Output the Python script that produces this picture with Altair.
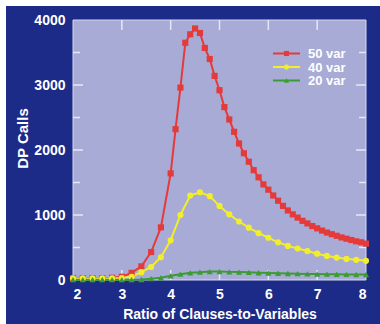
import altair as alt
import pandas as pd

# ---- data ----
red_x = [2.0, 2.2, 2.4, 2.6, 2.8, 3.0, 3.2, 3.4, 3.6, 3.8,
         4.0, 4.1, 4.2, 4.3, 4.4, 4.5, 4.6, 4.7, 4.8, 4.9,
         5.0, 5.1, 5.2, 5.3, 5.4, 5.5, 5.6, 5.7, 5.8, 5.9,
         6.0, 6.1, 6.2, 6.3, 6.4, 6.5, 6.6, 6.7, 6.8, 6.9,
         7.0, 7.1, 7.2, 7.3, 7.4, 7.5, 7.6, 7.7, 7.8, 7.9, 8.0]
red_y = [30, 30, 30, 30, 35, 50, 110, 210, 430, 810,
         1640, 2320, 2960, 3650, 3780, 3870, 3800, 3570, 3400, 3140,
         2920, 2660, 2470, 2280, 2100, 1950, 1820, 1690, 1580, 1470,
         1390, 1300, 1220, 1140, 1070, 1010, 960, 910, 870, 830,
         795, 760, 730, 705, 680, 655, 635, 615, 595, 580, 560]

yg_x = [2.0, 2.2, 2.4, 2.6, 2.8, 3.0, 3.2, 3.4, 3.6, 3.8,
        4.0, 4.2, 4.4, 4.6, 4.8, 5.0, 5.2, 5.4, 5.6, 5.8,
        6.0, 6.2, 6.4, 6.6, 6.8, 7.0, 7.2, 7.4, 7.6, 7.8, 8.0]
yellow_y = [25, 25, 25, 25, 25, 30, 50, 120, 200, 350,
            610, 1000, 1300, 1350, 1290, 1140, 1010, 900, 805, 720,
            650, 580, 525, 485, 445, 405, 370, 345, 325, 310, 295]
green_y = [5, 5, 5, 5, 5, 5, 5, 8, 20, 35,
           65, 90, 110, 120, 130, 130, 125, 122, 118, 112,
           108, 104, 100, 97, 94, 92, 90, 88, 86, 85, 84]

series = ["50 var", "40 var", "20 var"]
colors = ["#e53a3a", "#f2ee2a", "#3d9b35"]
shapes = ["square", "circle", "triangle-up"]

x_labels = [2, 3, 4, 5, 6, 7, 8]
y_labels = [0, 1000, 2000, 3000, 4000]
y_major_ticks = [1000, 2000, 3000]
y_minor_ticks = [500, 1500, 2500, 3500]
x_ticks = [3, 4, 5, 6, 7]

W, H = 293, 260
BLUE = "#1c2a88"
LAV = "#a8abd5"
TICK = "#e6e7f6"
FONT = "Liberation Sans"

df = pd.concat([
    pd.DataFrame({"x": red_x, "y": red_y, "s": series[0]}),
    pd.DataFrame({"x": yg_x, "y": yellow_y, "s": series[1]}),
    pd.DataFrame({"x": yg_x, "y": green_y, "s": series[2]}),
], ignore_index=True)
df["o"] = df.index

xs = alt.Scale(domain=[2, 8], nice=False, zero=False)
ys = alt.Scale(domain=[0, 4000], nice=False)
cs = alt.Scale(domain=series, range=colors)
ss = alt.Scale(domain=series, range=shapes)

one = pd.DataFrame({"a": [0]})

# white strips along the top and left edge of the picture
strip_top = alt.Chart(one).mark_rect(color="white").encode(
    x=alt.value(-80), x2=alt.value(W + 30), y=alt.value(-30), y2=alt.value(-14))
strip_left = alt.Chart(one).mark_rect(color="white").encode(
    x=alt.value(-80), x2=alt.value(-67), y=alt.value(-30), y2=alt.value(H + 60))
plot_bg = alt.Chart(one).mark_rect(fill=LAV, stroke="#d6d8f0", strokeWidth=1).encode(
    x=alt.value(0), x2=alt.value(W), y=alt.value(0), y2=alt.value(H))

xax = alt.Axis(values=x_labels, format="d", ticks=False, domain=False, grid=False, zindex=1,
               labelFont=FONT, labelFontSize=14, labelFontWeight="bold", labelColor="white",
               labelPadding=7, title="Ratio of Clauses-to-Variables", titleFont=FONT,
               titleFontSize=14, titleFontWeight="bold", titleColor="white",
               titleBaseline="alphabetic", titleY=38)
yax = alt.Axis(values=y_labels, format="d", ticks=False, domain=False, grid=False, zindex=1,
               labelFont=FONT, labelFontSize=14, labelFontWeight="bold", labelColor="white",
               labelPadding=8, title="DP Calls", titleFont=FONT, titleFontSize=15,
               titleFontWeight="bold", titleColor="white", titleAngle=-90,
               titleBaseline="middle", titleAlign="center", titleX=-51, titleY=118)

lines = alt.Chart(df).mark_line(strokeWidth=2).encode(
    x=alt.X("x:Q", scale=xs, axis=xax),
    y=alt.Y("y:Q", scale=ys, axis=yax),
    color=alt.Color("s:N", scale=cs, legend=None),
    detail="s:N",
    order="o:Q",
)
points = alt.Chart(df).mark_point(filled=True, size=38, opacity=1).encode(
    x=alt.X("x:Q", scale=xs),
    y=alt.Y("y:Q", scale=ys),
    color=alt.Color("s:N", scale=cs, legend=None),
    shape=alt.Shape("s:N", scale=ss, legend=None),
    order="o:Q",
)

def yticks(vals, x0, x1):
    return alt.Chart(pd.DataFrame({"v": vals})).mark_rule(color=TICK, strokeWidth=1.5).encode(
        y=alt.Y("v:Q", scale=ys), x=alt.value(x0), x2=alt.value(x1))

def xticks(vals, y0, y1):
    return alt.Chart(pd.DataFrame({"v": vals})).mark_rule(color=TICK, strokeWidth=1.5).encode(
        x=alt.X("v:Q", scale=xs), y=alt.value(y0), y2=alt.value(y1))

ticks = [
    yticks(y_major_ticks, 0, 10), yticks(y_minor_ticks, 0, 7),
    yticks(y_major_ticks, W - 10, W), yticks(y_minor_ticks, W - 7, W),
    xticks(x_ticks, 0, 10), xticks(x_ticks, H - 10, H),
]

legend_layers = []
for i, (name, col, shp) in enumerate(zip(series, colors, shapes)):
    ly = 33.5 + i * 13.5
    d = pd.DataFrame({"name": [name]})
    legend_layers.append(alt.Chart(d).mark_rule(color=col, strokeWidth=2).encode(
        x=alt.value(200), x2=alt.value(227), y=alt.value(ly)))
    legend_layers.append(alt.Chart(d).mark_point(shape=shp, filled=True, size=26, color=col, opacity=1).encode(
        x=alt.value(213.5), y=alt.value(ly)))
    legend_layers.append(alt.Chart(d).mark_text(align="left", baseline="middle", font=FONT,
        fontSize=13, fontWeight="bold", color="white").encode(
        x=alt.value(235), y=alt.value(ly + 0.5), text="name:N"))

chart = alt.layer(strip_top, strip_left, plot_bg, *ticks, lines, points, *legend_layers).properties(
    width=W, height=H,
    autosize=alt.AutoSizeParams(type="none"),
    padding={"left": 73, "top": 20, "right": 14, "bottom": 44},
    background=BLUE,
).configure_view(stroke=None)

chart.save("out.html", embed_options={"renderer": "svg", "actions": False})
